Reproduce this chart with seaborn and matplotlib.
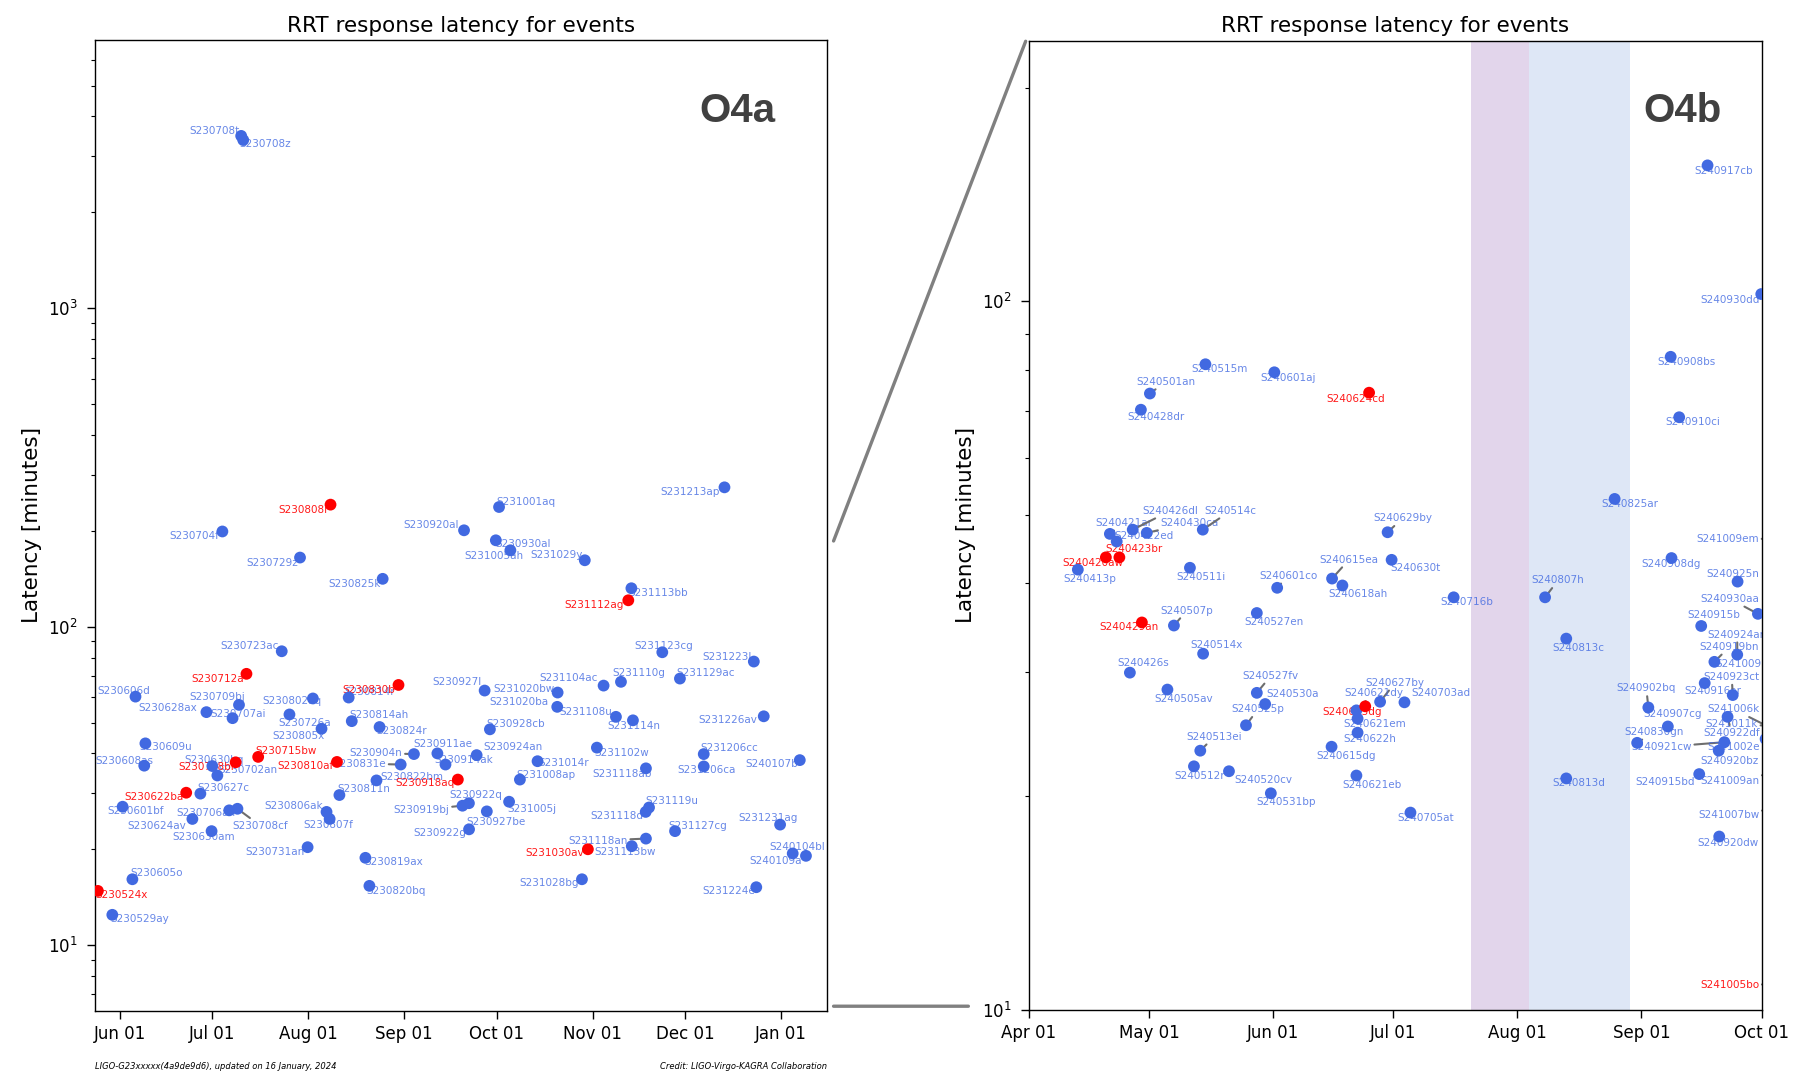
import pandas as pd
import matplotlib
matplotlib.use("Agg")
import matplotlib.pyplot as plt
import matplotlib.dates as mdates
from matplotlib.patches import ConnectionPatch
import seaborn as sns

# ---------------- O4a events ----------------
names_a = [
    "S230708t", "S230708z", "S230808i", "S230704f", "S230729z", "S230825k", "S230920al",
    "S230723ac", "S230712a", "S230606d", "S230709bj", "S230628ax", "S230707ai", "S230802aq",
    "S230814r", "S230830b", "S230927l", "S230726a", "S230805x", "S230814ah", "S230824r",
    "S231001aq", "S230930al", "S231005ah", "S231029y", "S231113bb", "S231112ag", "S231213ap",
    "S231123cg", "S231223l", "S231110g", "S231104ac", "S231129ac", "S231020bw", "S231020ba",
    "S231108u", "S231114n", "S231226av", "S230928cb", "S230609u", "S230608as", "S230630bq",
    "S230708bi", "S230702an", "S230715bw", "S230810af", "S230831e", "S230904n", "S230911ae",
    "S230914ak", "S230924an", "S230918aq", "S230822bm", "S230811n", "S230622ba", "S230627c",
    "S230601bf", "S230624av", "S230706ah", "S230708cf", "S230630am", "S230806ak", "S230807f",
    "S230919bj", "S230922q", "S230927be", "S231005j", "S230922g", "S230731an", "S230819ax",
    "S230820bq", "S230605o", "S230524x", "S230529ay", "S231008ap", "S231014r", "S231102w",
    "S231118ab", "S231206cc", "S231206ca", "S240107b", "S231118d", "S231119u", "S231127cg",
    "S231231ag", "S231118an", "S231113bw", "S231030av", "S231028bg", "S240104bl", "S240109a",
    "S231224e",
]
times_a = [
    "2023-07-10 07:00", "2023-07-10 23:00", "2023-08-08 05:00", "2023-07-04 05:00",
    "2023-07-29 08:00", "2023-08-25 02:00", "2023-09-20 10:00", "2023-07-23 10:00",
    "2023-07-12 00:00", "2023-06-06 02:00", "2023-07-09 14:00", "2023-06-29 01:00",
    "2023-07-07 12:00", "2023-08-02 12:00", "2023-08-14 02:00", "2023-08-30 05:00",
    "2023-09-27 02:00", "2023-07-25 22:00", "2023-08-05 07:00", "2023-08-15 02:00",
    "2023-08-24 02:00", "2023-10-01 18:00", "2023-09-30 17:00", "2023-10-05 10:00",
    "2023-10-29 12:00", "2023-11-13 14:00", "2023-11-12 14:00", "2023-12-13 17:00",
    "2023-11-23 14:00", "2023-12-23 05:00", "2023-11-10 05:00", "2023-11-04 14:00",
    "2023-11-29 07:00", "2023-10-20 17:00", "2023-10-20 14:00", "2023-11-08 14:00",
    "2023-11-14 02:00", "2023-12-26 10:00", "2023-09-28 19:00", "2023-06-09 07:00",
    "2023-06-08 22:00", "2023-06-30 23:00", "2023-07-08 12:00", "2023-07-02 14:00",
    "2023-07-15 19:00", "2023-08-10 07:00", "2023-08-30 22:00", "2023-09-04 05:00",
    "2023-09-11 19:00", "2023-09-14 10:00", "2023-09-24 12:00", "2023-09-18 10:00",
    "2023-08-23 02:00", "2023-08-11 02:00", "2023-06-22 12:00", "2023-06-27 02:00",
    "2023-06-01 22:00", "2023-06-24 12:00", "2023-07-06 10:00", "2023-07-09 02:00",
    "2023-06-30 17:00", "2023-08-06 22:00", "2023-08-07 22:00", "2023-09-19 22:00",
    "2023-09-22 00:00", "2023-09-27 19:00", "2023-10-05 00:00", "2023-09-22 01:00",
    "2023-07-31 19:00", "2023-08-19 12:00", "2023-08-20 19:00", "2023-06-05 02:00",
    "2023-05-24 22:00", "2023-05-29 14:00", "2023-10-08 12:00", "2023-10-14 05:00",
    "2023-11-02 10:00", "2023-11-18 07:00", "2023-12-07 00:00", "2023-12-07 00:00",
    "2024-01-07 02:00", "2023-11-18 05:00", "2023-11-19 07:00", "2023-11-27 17:00",
    "2023-12-31 17:00", "2023-11-18 07:00", "2023-11-13 17:00", "2023-10-30 12:00",
    "2023-10-28 14:00", "2024-01-04 19:00", "2024-01-09 02:00", "2023-12-24 00:00",
]
latency_a = [
    3475, 3373, 241.6, 199, 164.8, 141.3, 200.7,
    83.7, 71.1, 60.3, 56.8, 53.9, 51.6, 59.5,
    59.9, 65.6, 63.0, 53.0, 47.8, 50.5, 48.4,
    237.5, 186.7, 173.7, 161.6, 132.0, 121.0, 273.8,
    83.1, 77.7, 67.1, 65.3, 68.7, 62.1, 56.0,
    52.1, 50.8, 52.3, 47.6, 43.0, 36.6, 36.5,
    37.5, 34.1, 39.0, 37.6, 36.9, 39.8, 40.0,
    36.9, 39.5, 33.1, 32.9, 29.6, 30.1, 29.9,
    27.2, 24.9, 26.5, 26.8, 22.8, 26.2, 24.9,
    27.4, 27.9, 26.3, 28.2, 23.1, 20.3, 18.8,
    15.35, 16.1, 14.8, 12.45, 33.1, 37.8, 41.7,
    35.9, 39.8, 36.4, 38.1, 26.2, 27.05, 22.8,
    23.9, 21.6, 20.45, 20.0, 16.1, 19.4, 19.07,
    15.2,
]
red_a = ["S230808i", "S230712a", "S230830b", "S231112ag", "S230708bi", "S230715bw",
         "S230810af", "S230918aq", "S230622ba", "S230524x", "S231030av"]

# ---------------- O4b events ----------------
names_b = [
    "S240515m", "S240601aj", "S240624cd", "S240501an", "S240428dr", "S240421ar", "S240426dl",
    "S240422ed", "S240430ca", "S240514c", "S240420aw", "S240423br", "S240413p", "S240511i",
    "S240601co", "S240615ea", "S240618ah", "S240629by", "S240630t", "S240527en", "S240507p",
    "S240429an", "S240514x", "S240426s", "S240505av", "S240527fv", "S240530a", "S240525p",
    "S240513ei", "S240512r", "S240520cv", "S240531bp", "S240627by", "S240621dy", "S240621em",
    "S240622h", "S240623dg", "S240703ad", "S240615dg", "S240621eb", "S240705at", "S240716b",
    "S240807h", "S240813c", "S240813d", "S240825ar", "S240908dg", "S240917cb", "S240930dd",
    "S240908bs", "S240910ci", "S241009em", "S240925n", "S240930aa", "S240915b", "S240924an",
    "S240919bn", "S241009l", "S240916ar", "S240923ct", "S240902bq", "S240907cg", "S240830gn",
    "S240922df", "S240921cw", "S240920bz", "S241006k", "S241011k", "S241002e", "S240915bd",
    "S241009an", "S241007bw", "S240920dw", "S241005bo",
]
times_b = [
    "2024-05-15 02:00", "2024-06-01 07:00", "2024-06-24 23:00", "2024-05-01 05:00",
    "2024-04-28 23:00", "2024-04-21 05:00", "2024-04-26 22:00", "2024-04-22 22:00",
    "2024-04-30 10:00", "2024-05-14 10:00", "2024-04-20 05:00", "2024-04-23 14:00",
    "2024-04-13 05:00", "2024-05-11 05:00", "2024-06-02 00:00", "2024-06-15 17:00",
    "2024-06-18 07:00", "2024-06-29 14:00", "2024-06-30 14:00", "2024-05-27 22:00",
    "2024-05-07 05:00", "2024-04-29 05:00", "2024-05-14 12:00", "2024-04-26 05:00",
    "2024-05-05 14:00", "2024-05-27 22:00", "2024-05-30 00:00", "2024-05-25 05:00",
    "2024-05-13 19:00", "2024-05-12 05:00", "2024-05-20 23:00", "2024-05-31 10:00",
    "2024-06-27 17:00", "2024-06-21 19:00", "2024-06-22 02:00", "2024-06-22 02:00",
    "2024-06-24 00:00", "2024-07-03 19:00", "2024-06-15 14:00", "2024-06-21 19:00",
    "2024-07-05 07:00", "2024-07-16 02:00", "2024-08-07 22:00", "2024-08-13 05:00",
    "2024-08-13 05:00", "2024-08-25 07:00", "2024-09-08 12:00", "2024-09-17 12:00",
    "2024-09-30 22:00", "2024-09-08 07:00", "2024-09-10 10:00", "2024-10-09 00:00",
    "2024-09-25 00:00", "2024-09-30 02:00", "2024-09-15 22:00", "2024-09-24 22:00",
    "2024-09-19 05:00", "2024-10-09 00:00", "2024-09-16 19:00", "2024-09-23 19:00",
    "2024-09-02 17:00", "2024-09-07 14:00", "2024-08-30 22:00", "2024-09-22 12:00",
    "2024-09-21 17:00", "2024-09-20 07:00", "2024-10-06 00:00", "2024-10-11 00:00",
    "2024-10-02 00:00", "2024-09-15 10:00", "2024-10-09 00:00", "2024-10-07 00:00",
    "2024-09-20 10:00", "2024-10-05 00:00",
]
latency_b = [
    81.5, 79.4, 74.3, 74.1, 70.3, 46.95, 47.6,
    45.8, 47.1, 47.6, 43.5, 43.5, 41.8, 42.05,
    39.4, 40.6, 39.7, 47.2, 43.15, 36.3, 34.85,
    35.2, 31.8, 29.9, 28.3, 28.0, 27.0, 25.2,
    23.2, 22.05, 21.7, 20.2, 27.2, 26.45, 25.75,
    24.6, 26.8, 27.15, 23.5, 21.4, 18.97, 38.2,
    38.2, 33.4, 21.2, 52.6, 43.4, 155.6, 102.4,
    83.5, 68.6, 46.2, 40.2, 36.2, 34.8, 31.7,
    30.97, 30.8, 28.9, 27.8, 26.7, 25.1, 23.8,
    25.9, 23.85, 23.2, 24.55, 25.0, 24.1, 21.5,
    21.8, 19.3, 17.55, 10.86,
]
red_b = ["S240624cd", "S240420aw", "S240423br", "S240429an", "S240623dg", "S241005bo"]

# label placement: offset of each label centre from its point, pixels (x right, y up)
offsets_a = {
    "S230708t": (-27, 5), "S230708z": (22, -4), "S230808i": (-28, -5), "S230704f": (-28, -5),
    "S230729z": (-28, -5), "S230825k": (-28, -5), "S230920al": (-33, 5), "S230723ac": (-32, 5),
    "S230712a": (-29, -5), "S230606d": (-12, 6), "S230709bj": (-22, 8), "S230628ax": (-39, 4),
    "S230707ai": (6, 4), "S230802aq": (-21, -3), "S230814r": (21, 6), "S230830b": (-30, -5),
    "S230927l": (-28, 9), "S230726a": (15, -9), "S230805x": (-23, -7), "S230814ah": (27, 6),
    "S230824r": (22, -4), "S231001aq": (27, 5), "S230930al": (27, -4), "S231005ah": (-16, -6),
    "S231029y": (-28, 5), "S231113bb": (27, -5), "S231112ag": (-34, -5), "S231213ap": (-34, -5),
    "S231123cg": (1, 6), "S231223l": (-27, 5), "S231110g": (18, 9), "S231104ac": (-35, 8),
    "S231129ac": (26, 6), "S231020bw": (-34, 4), "S231020ba": (-38, 5), "S231108u": (-30, 5),
    "S231114n": (1, -6), "S231226av": (-36, -4), "S230928cb": (26, 5), "S230609u": (20, -4),
    "S230608as": (-20, 5), "S230630bq": (2, 6), "S230708bi": (-29, -5), "S230702an": (31, 5),
    "S230715bw": (28, 6), "S230810af": (-31, -4), "S230831e": (-41, 1), "S230904n": (-38, 1),
    "S230911ae": (5, 9), "S230914ak": (18, 5), "S230924an": (36, 8), "S230918aq": (-33, -3),
    "S230822bm": (35, 3), "S230811n": (24, 6), "S230622ba": (-32, -4), "S230627c": (23, 6),
    "S230601bf": (13, -4), "S230624av": (-36, -7), "S230706ah": (-23, -3), "S230708cf": (23, -17),
    "S230630am": (-8, -6), "S230806ak": (-33, 6), "S230807f": (-1, -6), "S230919bj": (-41, -4),
    "S230922q": (7, 8), "S230927be": (9, -11), "S231005j": (23, -7), "S230922g": (-29, -4),
    "S230731an": (-33, -5), "S230819ax": (28, -4), "S230820bq": (27, -5), "S230605o": (24, 6),
    "S230524x": (24, -4), "S230529ay": (27, -4), "S231008ap": (26, 5), "S231014r": (26, -2),
    "S231102w": (25, -5), "S231118ab": (-24, -6), "S231206cc": (26, 6), "S231206ca": (3, -4),
    "S240107b": (-28, -4), "S231118d": (-29, -4), "S231119u": (23, 6), "S231127cg": (23, 5),
    "S231231ag": (-12, 7), "S231118an": (-48, -2), "S231113bw": (-7, -6), "S231030av": (-33, -4),
    "S231028bg": (-33, -4), "S240104bl": (5, 6), "S240109a": (-30, -5), "S231224e": (-28, -4),
}
offsets_b = {
    "S240515m": (14, -5), "S240601aj": (14, -6), "S240624cd": (-13, -6), "S240501an": (16, 12),
    "S240428dr": (15, -7), "S240421ar": (14, 11), "S240426dl": (38, 19), "S240422ed": (27, 6),
    "S240430ca": (43, 10), "S240514c": (28, 19), "S240420aw": (-13, -6), "S240423br": (15, 8),
    "S240413p": (12, -9), "S240511i": (11, -9), "S240601co": (11, 12), "S240615ea": (17, 19),
    "S240618ah": (16, -9), "S240629by": (15, 14), "S240630t": (24, -8), "S240527en": (17, -9),
    "S240507p": (13, 15), "S240429an": (-13, -5), "S240514x": (13, 9), "S240426s": (13, 10),
    "S240505av": (16, -9), "S240527fv": (14, 17), "S240530a": (27, 10), "S240525p": (12, 16),
    "S240513ei": (14, 14), "S240512r": (6, -10), "S240520cv": (34, -9), "S240531bp": (15, -9),
    "S240627by": (15, 19), "S240621dy": (17, 17), "S240621em": (17, -5), "S240622h": (12, -6),
    "S240623dg": (-13, -6), "S240703ad": (36, 9), "S240615dg": (15, -9), "S240621eb": (16, -9),
    "S240705at": (15, -5), "S240716b": (13, -5), "S240807h": (13, 17), "S240813c": (12, -9),
    "S240813d": (13, -5), "S240825ar": (15, -5), "S240908dg": (0, -6), "S240917cb": (16, -6),
    "S240930dd": (-31, -6), "S240908bs": (16, -5), "S240910ci": (14, -5), "S241009em": (-66, 0),
    "S240925n": (-5, 8), "S240930aa": (-28, 15), "S240915b": (13, 11), "S240924an": (0, 20),
    "S240919bn": (15, 15), "S241009l": (-54, 0), "S240916ar": (8, -8), "S240923ct": (-1, 18),
    "S240902bq": (-2, 19), "S240907cg": (5, 12), "S240830gn": (17, 11), "S240922df": (4, -16),
    "S240921cw": (-63, -5), "S240920bz": (11, -10), "S241006k": (-48, 24), "S241011k": (-70, 4),
    "S241002e": (-32, -8), "S240915bd": (-34, -8), "S241009an": (-64, -11), "S241007bw": (-57, -8),
    "S240920dw": (9, -6), "S241005bo": (-48, -1),
}
# labels joined to their point by a grey leader line
leaders = {
    "S230709bj", "S230726a", "S230708cf", "S230831e", "S230904n", "S230919bj", "S231110g",
    "S231118an",
    "S240501an", "S240426dl", "S240430ca", "S240514c", "S240421ar", "S240601co", "S240615ea",
    "S240629by", "S240507p", "S240514x", "S240426s", "S240527fv", "S240525p", "S240513ei",
    "S240627by", "S240621dy", "S240807h", "S240930aa", "S240915b", "S240924an", "S240919bn",
    "S240923ct", "S240902bq", "S240907cg", "S240830gn", "S240921cw", "S240922df", "S241006k",
    "S241011k", "S241009an", "S241007bw", "S241009em", "S241009l", "S241005bo",
}


def draw_panel(ax, names, times, latency, red, offsets):
    df = pd.DataFrame({"name": names, "time": pd.to_datetime(times), "latency": latency})
    df["kind"] = ["red" if n in red else "blue" for n in df["name"]]
    df = df.sort_values("kind", kind="stable")
    sns.scatterplot(data=df, x="time", y="latency", hue="kind",
                    palette={"blue": "royalblue", "red": "red"},
                    s=72, linewidth=0, legend=False, ax=ax, zorder=3)
    ax.set_yscale("log")
    for _, row in df.iterrows():
        dx, dy = offsets[row["name"]]
        is_red = row["kind"] == "red"
        props = None
        if row["name"] in leaders:
            props = dict(arrowstyle="-", color="#6e6e6e", lw=1.5, shrinkA=0, shrinkB=0)
        ann = ax.annotate(row["name"], xy=(mdates.date2num(row["time"]), row["latency"]),
                          xytext=(dx, dy), textcoords="offset pixels",
                          ha="center", va="center", fontsize=7.5,
                          color="red" if is_red else "royalblue",
                          alpha=0.9 if is_red else 0.8,
                          zorder=2, annotation_clip=False, clip_on=True, arrowprops=props)
        if ann.arrow_patch is not None:
            ann.arrow_patch.set_clip_box(ax.bbox)
            ann.arrow_patch.set_zorder(1.5)
    ax.set_xlabel("")
    ax.set_ylabel("Latency [minutes]", fontsize=15.5)
    ax.set_title("RRT response latency for events", fontsize=15.5)
    ax.xaxis.set_major_locator(mdates.MonthLocator())
    ax.xaxis.set_major_formatter(mdates.DateFormatter("%b %d"))
    ax.tick_params(axis="both", which="major", labelsize=12, length=5.5, width=1)
    ax.tick_params(axis="both", which="minor", length=3, width=0.8)
    ax.tick_params(axis="x", pad=5)
    ax.tick_params(axis="y", pad=7)
    for sp in ax.spines.values():
        sp.set_linewidth(1.0)
    return df


fig = plt.figure(figsize=(17.97, 10.76), dpi=100)
ax1 = fig.add_axes([0.0529, 0.0607, 0.4075, 0.9021])
ax2 = fig.add_axes([0.5726, 0.0618, 0.4077, 0.9004])

draw_panel(ax1, names_a, times_a, latency_a, red_a, offsets_a)
ax1.set_xlim(pd.Timestamp("2023-05-24"), pd.Timestamp("2024-01-16"))
ax1.set_ylim(min(latency_a) / 2, max(latency_a) * 2)

# O4b breaks
ax2.axvspan(pd.Timestamp("2024-07-20 09:00"), pd.Timestamp("2024-08-03 21:00"),
            color="#e2d5eb", lw=0, zorder=0)
ax2.axvspan(pd.Timestamp("2024-08-03 21:00"), pd.Timestamp("2024-08-29 03:00"),
            color="#dee7f6", lw=0, zorder=0)
draw_panel(ax2, names_b, times_b, latency_b, red_b, offsets_b)
ax2.set_xlim(pd.Timestamp("2024-04-01"), pd.Timestamp("2024-10-01"))
ax2.set_ylim(10, max(latency_b) * 1.5)

for ax, run, xr in [(ax1, "O4a", 0.929), (ax2, "O4b", 0.945)]:
    ax.text(xr, 0.927, run, transform=ax.transAxes, ha="right", va="center",
            fontsize=29, fontweight="bold", color="#404040",
            family=["Liberation Sans", "DejaVu Sans"])

# zoom guide lines between the panels
for ya, xb, yb in [(0.4839, -0.0045, 0.9994), (0.0046, -0.0827, 0.0034)]:
    con = ConnectionPatch(xyA=(1.0085, ya), coordsA=ax1.transAxes,
                          xyB=(xb, yb), coordsB=ax2.transAxes,
                          color="#808080", lw=2.4)
    con.set_clip_on(False)
    fig.add_artist(con)

fig.text(0.0529, 0.0085, "LIGO-G23xxxxx(4a9de9d6), updated on 16 January, 2024",
         fontsize=6, style="italic", ha="left", va="center")
fig.text(0.4604, 0.0085, "Credit: LIGO-Virgo-KAGRA Collaboration",
         fontsize=6, style="italic", ha="right", va="center")

fig.savefig("out.png", dpi=100)
